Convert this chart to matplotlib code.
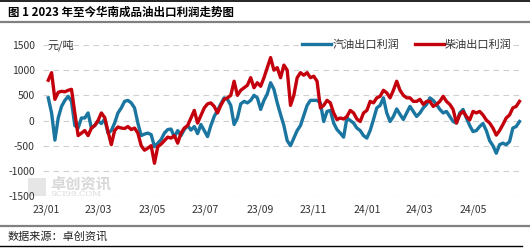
import numpy as np
import pandas as pd
import matplotlib.pyplot as plt
import matplotlib.dates as mdates
from matplotlib.lines import Line2D
from matplotlib.patches import Rectangle

plt.rcParams['font.family'] = ['Noto Sans CJK SC', 'DejaVu Sans']
plt.rcParams['axes.unicode_minus'] = False

# 汽油 / 柴油 出口利润, 元/吨, 2023-01 起
gasoline = [450, 150, -390, 50, 280, 400, 480, 380, -100, -150,
            50, 50, 150, -150, -100, -10, -60, 30, -250, -200,
            -50, 150, 250, 380, 400, 350, 250, -50, -300, -270,
            -250, -280, -520, -450, -380, -250, -180, -170, -330, -200,
            -300, -180, -100, -190, -120, -260, -80, -200, -320, -100,
            80, 200, 330, 450, 420, 300, -80, 50, 330, 380,
            350, 400, 500, 450, 220, 400, 530, 750, 620, 350,
            120, -100, -400, -500, -350, -200, -100, 100, 300, 400,
            400, 400, 350, -20, 180, 200, -50, -180, -250, -330,
            50, 0, -50, -150, -200, -300, -350, -200, 20, 250,
            300, 450, 150, -20, 80, 230, 120, 20, 150, 280,
            180, 80, 150, 250, 320, 450, 400, 320, 220, 150,
            180, 80, -20, -50, 150, 220, 50, -100, -220, -200,
            -120, -60, -200, -400, -500, -650, -480, -450, -480, -420,
            -150, -120, -20]
diesel = [800, 950, 420, 560, 580, 570, 600, 620, 150, -300,
          -250, -200, -300, -150, -100, 0, 150, 60, -220, -480,
          -200, -130, -150, -160, -120, -180, -150, -250, -500, -590,
          -550, -500, -850, -520, -470, -400, -330, -350, -300, -450,
          -250, -150, -100, 50, 200, -50, 100, 250, 330, 350,
          280, 150, 300, 420, 450, 500, 780, 500, 600, 650,
          700, 850, 650, 750, 680, 850, 1050, 1250, 1000, 1050,
          850, 1100, 1000, 300, 500, 850, 950, 900, 950, 850,
          880, 780, 250, 300, 400, 350, 150, 20, 50, 30,
          80, 200, 150, 30, -20, 150, 200, 380, 350, 450,
          480, 600, 550, 450, 600, 780, 600, 500, 450, 450,
          380, 380, 420, 320, 380, 380, 280, 320, 380, 480,
          380, 320, 220, -50, 120, 180, 80, 10, 180, 150,
          180, 110, 10, -50, -150, -290, -200, -80, 50, 110,
          250, 280, 380]
dates = pd.date_range('2023-01-03', '2024-06-23', periods=len(diesel))
tick_dates = pd.to_datetime(['2023-01-01', '2023-03-01', '2023-05-01', '2023-07-01',
                             '2023-09-01', '2023-11-01', '2024-01-01', '2024-03-01',
                             '2024-05-01'])
yticks = [-1500, -1000, -500, 0, 500, 1000, 1500]

blue = '#1a76a0'
red = '#c3000b'

fig = plt.figure(figsize=(5.3, 2.49), dpi=100)
W, H = 530, 249

# caption frame lines
fig.add_artist(Line2D([0, 1], [1 - 1.5 / H, 1 - 1.5 / H], color='black', lw=1.2))
fig.add_artist(Line2D([0, 1], [1 - 22 / H, 1 - 22 / H], color='#808080', lw=1.6))
fig.add_artist(Line2D([0, 1], [1 - 226 / H, 1 - 226 / H], color='#808080', lw=1.6))
fig.add_artist(Line2D([0, 0.985], [1 - 246 / H, 1 - 246 / H], color='black', lw=1.0))
fig.text(8 / W, 1 - 12 / H, '图 1 2023 年至今华南成品油出口利润走势图', fontsize=8.3,
         fontweight='bold', va='center', ha='left')
fig.text(8 / W, 1 - 236 / H, '数据来源：卓创资讯', fontsize=8, va='center', ha='left',
         color='#222222')

# watermark (behind the axes)
fig.add_artist(Rectangle((28 / W, 1 - 196 / H), 18 / W, 18 / H, facecolor='#e6e6e6',
                         edgecolor='none', zorder=-1))
fig.text(50 / W, 1 - 183 / H, '卓创资讯', fontsize=11, color='#d8d8d8', va='center',
         fontweight='bold', zorder=-1)
fig.text(50 / W, 1 - 194 / H, 'SCI99.COM', fontsize=6, color='#d8d8d8', va='center',
         family='DejaVu Serif', zorder=-1)

ax = fig.add_axes([43 / W, 1 - 196 / H, (523 - 43) / W, (196 - 45) / H])
ax.patch.set_alpha(0)
ax.plot(dates, gasoline, color=blue, lw=2.4, label='汽油出口利润')
ax.plot(dates, diesel, color=red, lw=2.4, label='柴油出口利润')

ax.set_ylim(-1500, 1500)
ax.set_xlim(pd.Timestamp('2022-12-28'), pd.Timestamp('2024-06-27'))
ax.set_yticks(yticks)
ax.set_yticklabels([str(v) for v in yticks], fontsize=7.5, color='#333333')
ax.set_xticks(tick_dates)
ax.xaxis.set_major_formatter(mdates.DateFormatter('%y/%m'))
for lbl in ax.get_xticklabels():
    lbl.set_fontsize(7.5)
    lbl.set_color('#333333')
ax.tick_params(length=0, pad=6)
ax.grid(axis='y', color='#cfcfcf', lw=0.8, ls=(0, (5, 4)))
ax.set_axisbelow(True)
for s in ax.spines.values():
    s.set_visible(False)

ax.text(0.01, 1500, '元/吨', fontsize=8, color='#333333', va='center',
        transform=ax.get_yaxis_transform())

ax.legend(loc='center right', bbox_to_anchor=(0.99, 1.0), ncol=2, fontsize=8,
          frameon=True, facecolor='white', edgecolor='none', framealpha=1,
          handlelength=2.6, handletextpad=0.1, columnspacing=1.4,
          borderpad=0.1, labelcolor='#333333')

fig.savefig('out.png', dpi=100)
